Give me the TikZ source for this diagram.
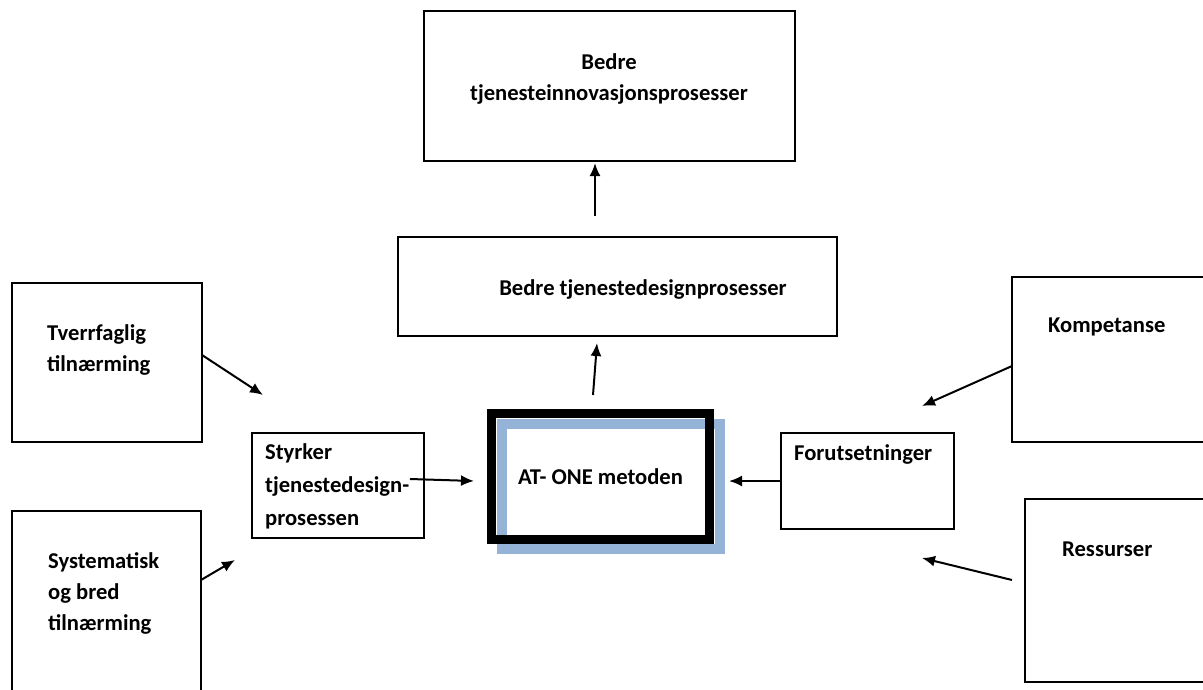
\documentclass[tikz,border=0pt]{standalone}
\usepackage{fontspec}
\setmainfont{Carlito}
\usetikzlibrary{arrows.meta}
\definecolor{shadowblue}{RGB}{149,179,215}
\begin{document}
\begin{tikzpicture}[x=1pt,y=-1pt,
  box/.style={draw, line width=2pt, anchor=north west, inner sep=0pt, outer sep=0pt},
  smallbox/.style={box, line width=1.5pt},
  txt/.style={font=\bfseries\fontsize{22.6}{31}\selectfont, inner sep=0pt, align=left, anchor=west},
  arr/.style={line width=2pt, -{Latex[length=13pt,width=11pt]}}]
\fill[white] (0,0) rectangle (1203,689);
\useasboundingbox (0,0) rectangle (1203,689);
\clip (0,0) rectangle (1203,689);

% boxes
\node[box, minimum width=371pt, minimum height=150pt] (top) at (424,11) {};
\node[box, minimum width=439pt, minimum height=99pt] (mid) at (398,237) {};
\node[box, minimum width=190pt, minimum height=159pt] (tverr) at (12,283) {};
\node[box, minimum width=189pt, minimum height=200pt] (syst) at (12,511) {};
\node[box, minimum width=220pt, minimum height=165pt] (komp) at (1012,277) {};
\node[box, minimum width=210pt, minimum height=183pt] (ress) at (1025,499) {};
\node[smallbox, minimum width=172pt, minimum height=105pt] (styr) at (252,433) {};
\node[smallbox, minimum width=173pt, minimum height=96pt] (forut) at (781,433) {};

% AT-ONE box with blue offset frame
\draw[shadowblue, line width=10pt, fill=white] (502,424) rectangle (720,549);
\node[draw, line width=9pt, inner sep=0pt, outer sep=4.5pt, minimum width=218pt, minimum height=126pt,
      font=\bfseries\fontsize{22.6}{31}\selectfont] (atone) at (600.5,476.5) {\raisebox{-3pt}{AT- ONE metoden}};

% texts
\node[txt, align=center, anchor=center] (ttop) at (609,79) {Bedre\\tjenesteinnovasjonsprosesser};
\node[txt, anchor=center] (tmid) at (643,289) {Bedre tjenestedesignprosesser};
\node[txt] (ttverr) at (47,350) {Tverrfaglig\\tilnærming};
\node[txt] (tsyst) at (48,593) {Systematisk\\og bred\\tilnærming};
\node[txt] (tkomp) at (1048,327) {Kompetanse};
\node[txt] (tress) at (1062,549) {Ressurser};
\node[txt, font=\bfseries\fontsize{22.6}{33}\selectfont] (tstyr) at (265,486) {Styrker\\tjenestedesign-\\prosessen};
\node[txt] (tforut) at (794,454) {Forutsetninger};

% connector end points
\coordinate (a1s) at (595,216);
\coordinate (a1e) at (595,163);
\coordinate (a2s) at (593,395);
\coordinate (a2e) at (597,343);
\coordinate (a3s) at (410,479);
\coordinate (a3e) at (474,481);
\coordinate (a4e) at (263,395);
\coordinate (a5e) at (235,560);
\coordinate (a6e) at (922,406);
\coordinate (a7s) at (1012,580);
\coordinate (a7e) at (922,558);
\coordinate (a8e) at (729,481);

% connectors
\draw[arr] (a1s) -- (a1e);
\draw[arr] (a2s) -- (a2e);
\draw[arr] (a3s) -- (a3e);
\draw[arr] (tverr.east |- 0,355) -- (a4e);
\draw[arr] (syst.east |- 0,580) -- (a5e);
\draw[arr] (komp.west |- 0,366) -- (a6e);
\draw[arr] (a7s) -- (a7e);
\draw[arr] (forut.west |- a8e) -- (a8e);
\end{tikzpicture}
\end{document}
